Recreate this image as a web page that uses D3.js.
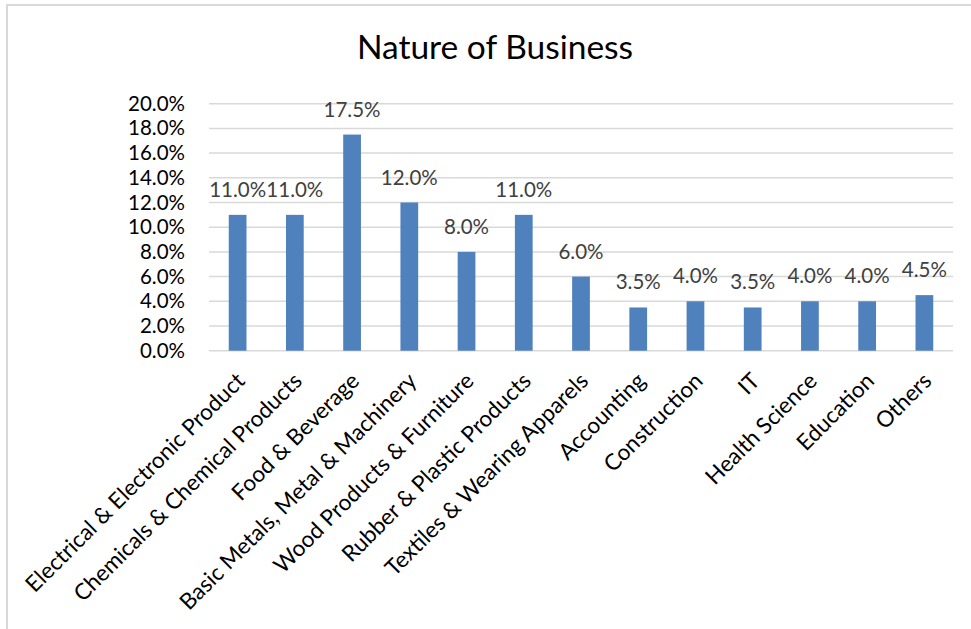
<!DOCTYPE html>
<html>
<head>
<meta charset="utf-8">
<script src="https://cdn.jsdelivr.net/npm/d3@7"></script>
<style>
  html, body { margin: 0; padding: 0; background: #fff; }
  svg { display: block; }
  text { font-family: Lato, "Noto Sans", sans-serif; }
</style>
</head>
<body>
<svg id="chart" width="971" height="629"></svg>
<script>
// Share of respondents by nature of business
const categories = [
  "Electrical & Electronic Product",
  "Chemicals & Chemical Products",
  "Food & Beverage",
  "Basic Metals, Metal & Machinery",
  "Wood Products & Furniture",
  "Rubber & Plastic Products",
  "Textiles & Wearing Apparels",
  "Accounting",
  "Construction",
  "IT",
  "Health Science",
  "Education",
  "Others"
];
const shares = [11.0, 11.0, 17.5, 12.0, 8.0, 11.0, 6.0, 3.5, 4.0, 3.5, 4.0, 4.0, 4.5];
const yTicks = [0, 2, 4, 6, 8, 10, 12, 14, 16, 18, 20];
const chartTitle = "Nature of Business";

const svg = d3.select("#chart");
const W = 971, H = 629;
const plot = { left: 209, right: 953, top: 103.7, bottom: 350.7 };

// chart frame
svg.append("path")
  .attr("d", `M7,${H + 2} V5 H${W + 2}`)
  .attr("fill", "none")
  .attr("stroke", "#d9d9d9")
  .attr("stroke-width", 2);

svg.append("text")
  .attr("x", 495)
  .attr("y", 59)
  .attr("text-anchor", "middle")
  .attr("font-size", 33.5)
  .attr("fill", "#000")
  .text(chartTitle);

const x = d3.scaleBand()
  .domain(categories)
  .range([plot.left, plot.right])
  .paddingInner(0.69)
  .paddingOuter(0.345);

const y = d3.scaleLinear()
  .domain([0, 20])
  .range([plot.bottom, plot.top]);

// gridlines
svg.append("g")
  .selectAll("line")
  .data(yTicks)
  .join("line")
  .attr("x1", plot.left)
  .attr("x2", plot.right)
  .attr("y1", d => y(d))
  .attr("y2", d => y(d))
  .attr("stroke", "#d9d9d9")
  .attr("stroke-width", 1.5);

// y axis labels
const yAxis = d3.axisLeft(y)
  .tickValues(yTicks)
  .tickSize(0)
  .tickPadding(0)
  .tickFormat(d => d.toFixed(1) + "%");
const yg = svg.append("g")
  .attr("transform", `translate(185,0)`)
  .call(yAxis);
yg.select(".domain").remove();
yg.selectAll("text")
  .attr("font-size", 20.5)
  .attr("font-family", "Lato, 'Noto Sans', sans-serif")
  .attr("fill", "#000");

// bars
svg.append("g")
  .selectAll("rect")
  .data(categories)
  .join("rect")
  .attr("x", d => x(d))
  .attr("width", x.bandwidth())
  .attr("y", (d, i) => y(shares[i]))
  .attr("height", (d, i) => y(0) - y(shares[i]))
  .attr("fill", "#4f81bd");

// value labels
svg.append("g")
  .selectAll("text")
  .data(categories)
  .join("text")
  .attr("x", d => x(d) + x.bandwidth() / 2)
  .attr("y", (d, i) => y(shares[i]) - 18)
  .attr("text-anchor", "middle")
  .attr("font-size", 20.5)
  .attr("fill", "#404040")
  .text((d, i) => shares[i].toFixed(1) + "%");

// category labels, rotated
const xAxis = d3.axisBottom(x).tickSize(0).tickPadding(0);
const xg = svg.append("g")
  .attr("transform", `translate(0,${plot.bottom})`)
  .call(xAxis);
xg.select(".domain").remove();
xg.selectAll("text")
  .attr("font-size", 22.5)
  .attr("font-family", "Lato, 'Noto Sans', sans-serif")
  .attr("fill", "#000")
  .attr("text-anchor", "end")
  .attr("dy", "0.35em")
  .attr("transform", "translate(3,26) rotate(-45)");
</script>
</body>
</html>
